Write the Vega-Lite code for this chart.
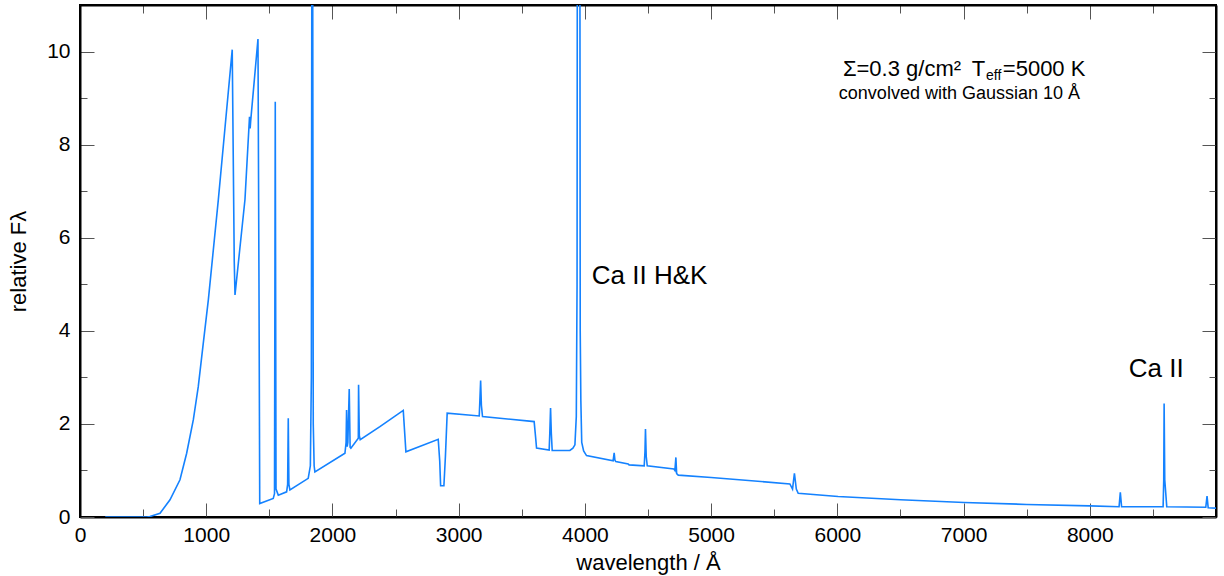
{
  "$schema": "https://vega.github.io/schema/vega-lite/v6.json",
  "width": 1136,
  "height": 512,
  "autosize": {"type": "none"},
  "padding": {"left": 80, "top": 5, "right": 8, "bottom": 59},
  "background": "white",
  "config": {
    "view": {"stroke": "black", "strokeWidth": 2},
    "font": "Liberation Sans",
    "axis": {
      "grid": false,
      "domainColor": "black",
      "domainWidth": 2,
      "tickColor": "#555555",
      "tickWidth": 1,
      "labelFont": "Liberation Sans",
      "labelFontSize": 21,
      "labelColor": "black",
      "labelOverlap": false,
      "labelFlush": false,
      "titleFont": "Liberation Sans",
      "titleFontSize": 22,
      "titleFontWeight": "normal",
      "titleColor": "black"
    }
  },
  "datasets": {
    "spectrum": [
      {"wavelength": 200, "flux": 0}, {"wavelength": 530, "flux": 0}, {"wavelength": 554, "flux": 0.01},
      {"wavelength": 634, "flux": 0.08}, {"wavelength": 713, "flux": 0.37}, {"wavelength": 792, "flux": 0.8},
      {"wavelength": 845, "flux": 1.37}, {"wavelength": 898, "flux": 2.09}, {"wavelength": 937, "flux": 2.8},
      {"wavelength": 977, "flux": 3.74}, {"wavelength": 1017, "flux": 4.67}, {"wavelength": 1096, "flux": 6.82},
      {"wavelength": 1150, "flux": 8.4}, {"wavelength": 1206, "flux": 10.04}, {"wavelength": 1222, "flux": 5.5},
      {"wavelength": 1228, "flux": 4.77}, {"wavelength": 1307, "flux": 6.82}, {"wavelength": 1343, "flux": 8.6},
      {"wavelength": 1348, "flux": 8.35}, {"wavelength": 1352, "flux": 8.5}, {"wavelength": 1410, "flux": 10.27},
      {"wavelength": 1418, "flux": 5}, {"wavelength": 1424, "flux": 0.29}, {"wavelength": 1531, "flux": 0.4},
      {"wavelength": 1541, "flux": 0.5}, {"wavelength": 1547, "flux": 8.92}, {"wavelength": 1553, "flux": 0.6},
      {"wavelength": 1571, "flux": 0.47}, {"wavelength": 1637, "flux": 0.54}, {"wavelength": 1645, "flux": 0.7},
      {"wavelength": 1650, "flux": 2.12}, {"wavelength": 1655, "flux": 0.7}, {"wavelength": 1663, "flux": 0.58},
      {"wavelength": 1808, "flux": 0.83}, {"wavelength": 1825, "flux": 1.1}, {"wavelength": 1833, "flux": 3},
      {"wavelength": 1838, "flux": 15}, {"wavelength": 1842, "flux": 15}, {"wavelength": 1848, "flux": 2},
      {"wavelength": 1855, "flux": 1.1}, {"wavelength": 1861, "flux": 0.97}, {"wavelength": 2099, "flux": 1.37},
      {"wavelength": 2108, "flux": 1.6}, {"wavelength": 2112, "flux": 2.3}, {"wavelength": 2117, "flux": 1.51},
      {"wavelength": 2122, "flux": 1.6}, {"wavelength": 2133, "flux": 2.75}, {"wavelength": 2140, "flux": 1.5},
      {"wavelength": 2146, "flux": 1.48}, {"wavelength": 2205, "flux": 1.69}, {"wavelength": 2207, "flux": 2.84},
      {"wavelength": 2213, "flux": 1.75}, {"wavelength": 2220, "flux": 1.66}, {"wavelength": 2376, "flux": 1.94},
      {"wavelength": 2561, "flux": 2.29}, {"wavelength": 2582, "flux": 1.4}, {"wavelength": 2838, "flux": 1.67},
      {"wavelength": 2850, "flux": 1.2}, {"wavelength": 2857, "flux": 0.67}, {"wavelength": 2883, "flux": 0.67},
      {"wavelength": 2895, "flux": 1.3}, {"wavelength": 2909, "flux": 2.23}, {"wavelength": 3163, "flux": 2.17},
      {"wavelength": 3168, "flux": 2.5}, {"wavelength": 3174, "flux": 2.93}, {"wavelength": 3180, "flux": 2.4},
      {"wavelength": 3189, "flux": 2.16}, {"wavelength": 3598, "flux": 2.05}, {"wavelength": 3610, "flux": 1.7},
      {"wavelength": 3617, "flux": 1.48}, {"wavelength": 3717, "flux": 1.44}, {"wavelength": 3722, "flux": 1.8},
      {"wavelength": 3728, "flux": 2.34}, {"wavelength": 3734, "flux": 1.8}, {"wavelength": 3741, "flux": 1.43},
      {"wavelength": 3881, "flux": 1.43}, {"wavelength": 3905, "flux": 1.48}, {"wavelength": 3921, "flux": 1.55},
      {"wavelength": 3932, "flux": 2.16}, {"wavelength": 3938, "flux": 5}, {"wavelength": 3942, "flux": 20},
      {"wavelength": 3958, "flux": 20}, {"wavelength": 3963, "flux": 4}, {"wavelength": 3968, "flux": 2.5},
      {"wavelength": 3975, "flux": 1.6}, {"wavelength": 3990, "flux": 1.42}, {"wavelength": 4013, "flux": 1.32},
      {"wavelength": 4224, "flux": 1.21}, {"wavelength": 4228, "flux": 1.3}, {"wavelength": 4232, "flux": 1.38},
      {"wavelength": 4238, "flux": 1.22}, {"wavelength": 4245, "flux": 1.19}, {"wavelength": 4343, "flux": 1.14},
      {"wavelength": 4350, "flux": 1.12}, {"wavelength": 4470, "flux": 1.1}, {"wavelength": 4476, "flux": 1.4},
      {"wavelength": 4480, "flux": 1.89}, {"wavelength": 4486, "flux": 1.3}, {"wavelength": 4494, "flux": 1.1},
      {"wavelength": 4705, "flux": 1.03}, {"wavelength": 4713, "flux": 1.0}, {"wavelength": 4721, "flux": 1.28},
      {"wavelength": 4727, "flux": 0.93}, {"wavelength": 4740, "flux": 0.9}, {"wavelength": 5000, "flux": 0.85},
      {"wavelength": 5624, "flux": 0.71}, {"wavelength": 5645, "flux": 0.6}, {"wavelength": 5660, "flux": 0.94},
      {"wavelength": 5675, "flux": 0.6}, {"wavelength": 5690, "flux": 0.51}, {"wavelength": 6006, "flux": 0.44},
      {"wavelength": 6500, "flux": 0.37}, {"wavelength": 7005, "flux": 0.31}, {"wavelength": 7500, "flux": 0.27},
      {"wavelength": 8000, "flux": 0.24}, {"wavelength": 8232, "flux": 0.22}, {"wavelength": 8242, "flux": 0.53},
      {"wavelength": 8252, "flux": 0.22}, {"wavelength": 8581, "flux": 0.22}, {"wavelength": 8586, "flux": 0.8},
      {"wavelength": 8589, "flux": 2.44}, {"wavelength": 8594, "flux": 0.8}, {"wavelength": 8610, "flux": 0.22},
      {"wavelength": 8919, "flux": 0.21}, {"wavelength": 8929, "flux": 0.45}, {"wavelength": 8938, "flux": 0.2},
      {"wavelength": 9000, "flux": 0.19}
    ],
    "lineLabels": [
      {"x": 4055, "y": 5.0, "text": "Ca II H&K"},
      {"x": 8309, "y": 3.0, "text": "Ca II"}
    ],
    "info": [
      {"x": 6044, "y": 9.48, "text": "Σ=0.3 g/cm²"},
      {"x": 7065, "y": 9.48, "text": "T"},
      {"x": 7311, "y": 9.48, "text": "=5000 K"}
    ],
    "infoSub": [
      {"x": 7178, "y": 9.38, "text": "eff"}
    ],
    "infoLine2": [
      {"x": 6012, "y": 8.99, "text": "convolved with Gaussian 10 Å"}
    ]
  },
  "layer": [
    {
      "data": {"name": "spectrum"},
      "mark": {"type": "line", "color": "#1482ff", "strokeWidth": 1.6, "clip": true},
      "encoding": {
        "x": {
          "field": "wavelength", "type": "quantitative",
          "scale": {"domain": [0, 9000], "nice": false, "zero": false},
          "axis": {
            "orient": "bottom",
            "title": "wavelength / Å",
            "values": [0, 500, 1000, 1500, 2000, 2500, 3000, 3500, 4000, 4500, 5000, 5500, 6000, 6500, 7000, 7500, 8000, 8500],
            "labelExpr": "datum.value % 1000 === 0 ? datum.label : ''",
            "format": "d",
            "tickSize": {"condition": {"test": "datum.value % 1000 === 0", "value": -14}, "value": -8},
            "labelPadding": 21,
            "titlePadding": 1
          }
        },
        "y": {
          "field": "flux", "type": "quantitative",
          "scale": {"domain": [0, 11], "nice": false, "zero": false},
          "axis": {
            "orient": "left",
            "title": "relative Fλ",
            "values": [0, 1, 2, 3, 4, 5, 6, 7, 8, 9, 10],
            "labelExpr": "datum.value % 2 === 0 ? datum.label : ''",
            "format": "d",
            "tickSize": {"condition": {"test": "datum.value % 2 === 0", "value": -14}, "value": -7},
            "labelPadding": 24,
            "titlePadding": 16
          }
        }
      }
    },
    {
      "data": {"name": "lineLabels"},
      "mark": {"type": "text", "align": "left", "baseline": "alphabetic", "fontSize": 26, "font": "Liberation Sans", "color": "black"},
      "encoding": {
        "x": {
          "field": "x", "type": "quantitative",
          "axis": {
            "orient": "top", "title": null, "labels": false, "domain": true,
            "values": [0, 500, 1000, 1500, 2000, 2500, 3000, 3500, 4000, 4500, 5000, 5500, 6000, 6500, 7000, 7500, 8000, 8500],
            "tickSize": {"condition": {"test": "datum.value % 1000 === 0", "value": -14}, "value": -8}
          }
        },
        "y": {
          "field": "y", "type": "quantitative",
          "axis": {
            "orient": "right", "title": null, "labels": false, "domain": true,
            "values": [0, 1, 2, 3, 4, 5, 6, 7, 8, 9, 10],
            "tickSize": {"condition": {"test": "datum.value % 2 === 0", "value": -14}, "value": -7}
          }
        },
        "text": {"field": "text"}
      }
    },
    {
      "data": {"name": "info"},
      "mark": {"type": "text", "align": "left", "baseline": "alphabetic", "fontSize": 22, "font": "Liberation Sans", "color": "black"},
      "encoding": {
        "x": {"field": "x", "type": "quantitative", "axis": null},
        "y": {"field": "y", "type": "quantitative", "axis": null},
        "text": {"field": "text"}
      }
    },
    {
      "data": {"name": "infoSub"},
      "mark": {"type": "text", "align": "left", "baseline": "alphabetic", "fontSize": 14, "font": "Liberation Sans", "color": "black"},
      "encoding": {
        "x": {"field": "x", "type": "quantitative", "axis": null},
        "y": {"field": "y", "type": "quantitative", "axis": null},
        "text": {"field": "text"}
      }
    },
    {
      "data": {"name": "infoLine2"},
      "mark": {"type": "text", "align": "left", "baseline": "alphabetic", "fontSize": 18, "font": "Liberation Sans", "color": "black"},
      "encoding": {
        "x": {"field": "x", "type": "quantitative", "axis": null},
        "y": {"field": "y", "type": "quantitative", "axis": null},
        "text": {"field": "text"}
      }
    }
  ],
  "resolve": {"axis": {"x": "independent", "y": "independent"}}
}
